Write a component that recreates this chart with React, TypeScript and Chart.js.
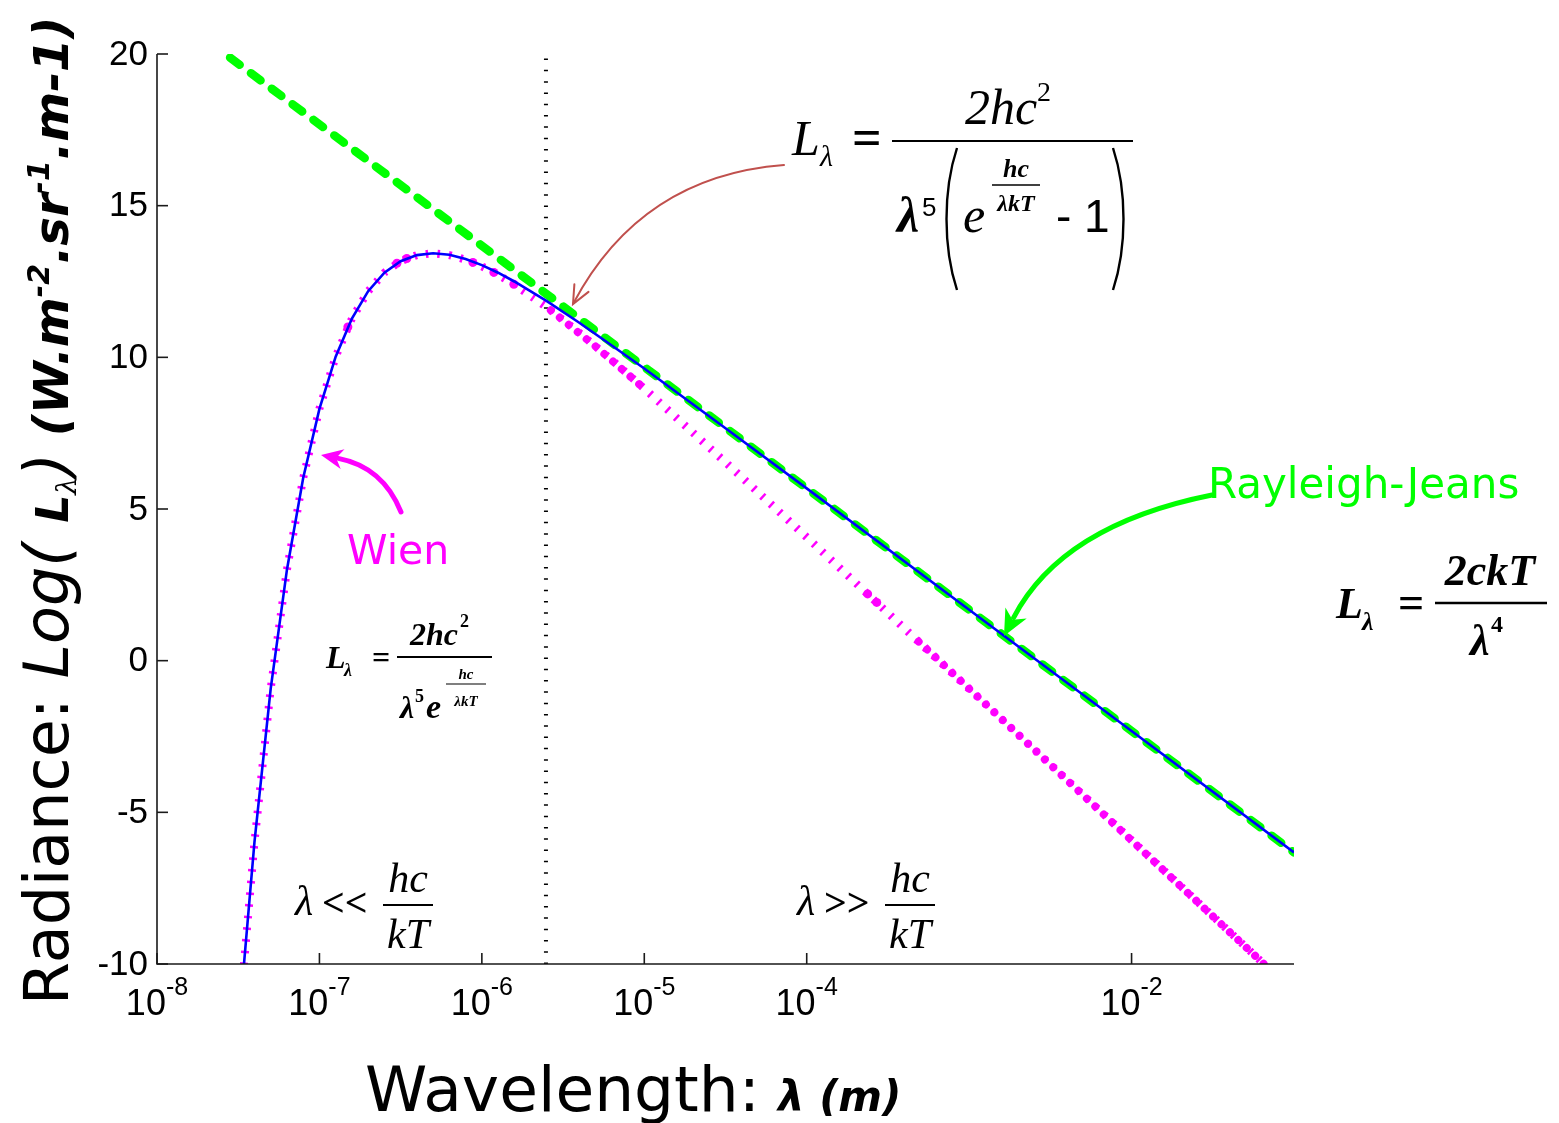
import React, { useEffect, useRef } from "react";
import { Chart, registerables } from "chart.js";

Chart.register(...registerables);

// ---- data (x = log10 of wavelength in m, y = log10 of radiance) ----
const planckLogLambda = [-7.465, -7.4, -7.3, -7.2, -7.1, -7.0, -6.9, -6.8, -6.7, -6.6, -6.5, -6.4, -6.3, -6.2, -6.1, -6.0, -5.9, -5.8, -5.6, -5.4, -5.2, -5.0, -4.5, -4.0, -3.0, -2.0, -1.0];
const planckLogL = [-10.03, -5.98, -0.92, 3.0, 6.02, 8.3, 10.02, 11.28, 12.18, 12.79, 13.17, 13.37, 13.43, 13.38, 13.24, 13.04, 12.79, 12.5, 11.85, 11.14, 10.39, 9.63, 7.66, 5.68, 1.68, -2.32, -6.32];

const wienLogLambda = [-7.465, -7.4, -7.3, -7.2, -7.1, -7.0, -6.9, -6.8, -6.7, -6.6, -6.5, -6.4, -6.3, -6.2, -6.1, -6.0, -5.9, -5.8, -5.6, -5.4, -5.2, -5.0, -4.5, -4.0, -3.0, -2.0, -1.185];
const wienLogL = [-10.03, -5.98, -0.92, 3.0, 6.02, 8.31, 10.02, 11.28, 12.18, 12.79, 13.17, 13.37, 13.43, 13.37, 13.22, 13.0, 12.72, 12.4, 11.65, 10.81, 9.91, 8.97, 6.54, 4.07, -0.93, -5.92, -10.0];

const wienDotLogLambda = [-6.825, -6.523, -6.462, -6.055, -5.926, -5.803, -3.625, -3.569];
const wienDotLogL = [11.0, 13.1, 13.26, 13.13, 12.8, 12.41, 2.2, 1.92];

const wienDenseALogLambda = [-5.575, -5.3, -5.028];
const wienDenseALogL = [11.55, 10.36, 9.1];
const wienDenseBLogLambda = [-3.311, -1.185];
const wienDenseBLogL = [0.63, -10.0];

const rjLogLambda = [-7.55, -1.0];
const rjLogL = [19.88, -6.32];

const thresholdLogLambda = [-5.6054, -5.6054];
const thresholdLogL = [19.85, -10];

const xTickExponents = [-8, -7, -6, -5, -4, -2];
const yTickValues = [-10, -5, 0, 5, 10, 15, 20];

const pts = (xs: number[], ys: number[]) => xs.map((x, i) => ({ x, y: ys[i] }));

const SANS = "'DejaVu Sans', sans-serif";
const ARIAL = "'Liberation Sans', Arial, sans-serif";
const SERIF = "'Liberation Serif', 'Times New Roman', serif";

function txt(ctx: CanvasRenderingContext2D, s: string, x: number, y: number, font: string, color = "#000", align: CanvasTextAlign = "left") {
  ctx.font = font;
  ctx.fillStyle = color;
  ctx.textAlign = align;
  ctx.textBaseline = "alphabetic";
  ctx.fillText(s, x, y);
}

function arrow(ctx: CanvasRenderingContext2D, sx: number, sy: number, cx: number, cy: number, tx: number, ty: number, color: string, lw: number, len: number, hw: number, filled: boolean) {
  const ang = Math.atan2(ty - cy, tx - cx);
  const cos = Math.cos(ang), sin = Math.sin(ang);
  const bx = tx - len * cos * (filled ? 0.8 : 0.05);
  const by = ty - len * sin * (filled ? 0.8 : 0.05);
  ctx.save();
  ctx.strokeStyle = color;
  ctx.fillStyle = color;
  ctx.lineWidth = lw;
  ctx.lineCap = "round";
  ctx.beginPath();
  ctx.moveTo(sx, sy);
  ctx.quadraticCurveTo(cx, cy, bx, by);
  ctx.stroke();
  const hx = tx - len * cos, hy = ty - len * sin;
  const p1x = hx - hw * sin, p1y = hy + hw * cos;
  const p2x = hx + hw * sin, p2y = hy - hw * cos;
  ctx.beginPath();
  if (filled) {
    const nx = tx - len * 0.7 * cos, ny = ty - len * 0.7 * sin;
    ctx.moveTo(tx, ty);
    ctx.lineTo(p1x, p1y);
    ctx.lineTo(nx, ny);
    ctx.lineTo(p2x, p2y);
    ctx.closePath();
    ctx.fill();
  } else {
    ctx.moveTo(p1x, p1y);
    ctx.lineTo(tx, ty);
    ctx.lineTo(p2x, p2y);
    ctx.stroke();
  }
  ctx.restore();
}

function hline(ctx: CanvasRenderingContext2D, x1: number, x2: number, y: number, lw: number) {
  ctx.save();
  ctx.strokeStyle = "#000";
  ctx.lineWidth = lw;
  ctx.beginPath();
  ctx.moveTo(x1, y);
  ctx.lineTo(x2, y);
  ctx.stroke();
  ctx.restore();
}

function paren(ctx: CanvasRenderingContext2D, x: number, y1: number, y2: number, dir: number) {
  ctx.save();
  ctx.strokeStyle = "#000";
  ctx.lineWidth = 2.4;
  ctx.beginPath();
  ctx.moveTo(x + dir * 12, y1);
  ctx.bezierCurveTo(x - dir * 2, y1 + (y2 - y1) * 0.3, x - dir * 2, y1 + (y2 - y1) * 0.7, x + dir * 12, y2);
  ctx.stroke();
  ctx.restore();
}

const decorPlugin = {
  id: "decor",
  afterDraw(chart: any) {
    const ctx: CanvasRenderingContext2D = chart.ctx;
    const { left, right, top, bottom } = chart.chartArea;
    const xs = chart.scales.x;
    const ys = chart.scales.y;
    ctx.save();

    // axes
    ctx.strokeStyle = "#1a1a1a";
    ctx.lineWidth = 1.6;
    ctx.beginPath();
    ctx.moveTo(left, top);
    ctx.lineTo(left, bottom);
    ctx.lineTo(right, bottom);
    ctx.stroke();

    // y ticks + labels
    for (const v of yTickValues) {
      const py = ys.getPixelForValue(v);
      ctx.strokeStyle = "#1a1a1a";
      ctx.beginPath();
      ctx.moveTo(left, py);
      ctx.lineTo(left + 11, py);
      ctx.stroke();
      ctx.font = `35px ${ARIAL}`;
      ctx.fillStyle = "#000";
      ctx.textAlign = "right";
      ctx.textBaseline = "middle";
      ctx.fillText(String(v), left - 9, py + 1);
    }

    // x ticks + labels
    for (const e of xTickExponents) {
      const px = xs.getPixelForValue(e);
      ctx.strokeStyle = "#1a1a1a";
      ctx.beginPath();
      ctx.moveTo(px, bottom);
      ctx.lineTo(px, bottom - 11);
      ctx.stroke();
      ctx.font = `36px ${ARIAL}`;
      const w1 = ctx.measureText("10").width;
      ctx.font = `25px ${ARIAL}`;
      const sup = String(e);
      const w2 = ctx.measureText(sup).width;
      const sx = px - (w1 + w2) / 2;
      txt(ctx, "10", sx, bottom + 51, `36px ${ARIAL}`);
      txt(ctx, sup, sx + w1, bottom + 31, `25px ${ARIAL}`);
    }

    // y-axis title (rotated)
    ctx.save();
    ctx.translate(68, 1005);
    ctx.rotate(-Math.PI / 2);
    ctx.fillStyle = "#000";
    ctx.textAlign = "left";
    ctx.textBaseline = "alphabetic";
    let cx = 0;
    const seg = (s: string, font: string, dy = 0) => {
      ctx.font = font;
      ctx.fillText(s, cx, dy);
      cx += ctx.measureText(s).width;
    };
    seg("Radiance: ", `62px ${SANS}`);
    seg("Log(", `italic 62px ${SANS}`);
    seg(" ", `62px ${SANS}`);
    seg("L", `bold italic 44px ${SANS}`);
    seg("λ", `italic 28px 'DejaVu Serif', serif`, 8);
    seg(")", `italic 62px ${SANS}`);
    seg(" (W.m", `bold italic 48px ${SANS}`);
    seg("-2", `bold italic 30px ${SANS}`, -19);
    seg(".sr", `bold italic 48px ${SANS}`);
    seg("-1", `bold italic 30px ${SANS}`, -19);
    seg(".m-1)", `bold italic 48px ${SANS}`);
    ctx.restore();

    // x-axis title
    {
      ctx.font = `63px ${SANS}`;
      const s = "Wavelength: ";
      txt(ctx, s, 365, 1111, `63px ${SANS}`);
      const w = ctx.measureText(s).width;
      txt(ctx, "λ (m)", 365 + w - 2, 1111, `bold italic 42px ${SANS}`);
    }

    // labels
    txt(ctx, "Wien", 347, 564, `41px ${SANS}`, "#ff00ff");
    txt(ctx, "Rayleigh-Jeans", 1208, 498, `42px ${SANS}`, "#00ff00");

    // arrows
    arrow(ctx, 784, 165, 641, 176, 573, 304, "rgb(192,80,77)", 2, 18, 8, false);
    arrow(ctx, 401, 512, 383, 467, 321, 455, "#ff00ff", 5, 22, 10, true);
    arrow(ctx, 1212, 495, 1062, 525, 1004, 636, "#00ff00", 5, 26, 12, true);

    // main Planck formula
    txt(ctx, "L", 792, 155, `italic 50px ${SERIF}`);
    txt(ctx, "λ", 820, 166, `italic 30px ${SERIF}`);
    txt(ctx, "=", 852, 155, `bold 52px ${SERIF}`);
    hline(ctx, 892, 1133, 141, 2);
    txt(ctx, "2hc", 965, 124, `italic 50px ${SERIF}`);
    txt(ctx, "2", 1037, 101, `28px ${SERIF}`);
    txt(ctx, "λ", 897, 232, `bold italic 50px ${SERIF}`);
    txt(ctx, "5", 922, 216, `26px ${ARIAL}`);
    paren(ctx, 945, 148, 290, 1);
    txt(ctx, "e", 963, 232, `italic 50px ${SERIF}`);
    txt(ctx, "hc", 1016, 177, `bold italic 26px ${SERIF}`, "#000", "center");
    hline(ctx, 992, 1040, 185, 1.5);
    txt(ctx, "λkT", 1016, 211, `bold italic 24px ${SERIF}`, "#000", "center");
    txt(ctx, "- 1", 1056, 232, `46px ${ARIAL}`);
    paren(ctx, 1125, 148, 290, -1);

    // Wien formula
    txt(ctx, "L", 326, 668, `bold italic 32px ${SERIF}`);
    txt(ctx, "λ", 344, 676, `bold italic 18px ${SERIF}`);
    txt(ctx, "=", 372, 668, `bold 32px ${SERIF}`);
    hline(ctx, 397, 492, 657, 2);
    txt(ctx, "2hc", 410, 645, `bold italic 32px ${SERIF}`);
    txt(ctx, "2", 460, 627, `bold 18px ${SERIF}`);
    txt(ctx, "λ", 400, 718, `bold italic 32px ${SERIF}`);
    txt(ctx, "5", 415, 702, `bold 18px ${SERIF}`);
    txt(ctx, "e", 426, 718, `bold italic 34px ${SERIF}`);
    txt(ctx, "hc", 466, 679, `bold italic 15px ${SERIF}`, "#000", "center");
    hline(ctx, 446, 486, 684, 1.2);
    txt(ctx, "λkT", 466, 706, `bold italic 15px ${SERIF}`, "#000", "center");

    // Rayleigh-Jeans formula
    txt(ctx, "L", 1336, 618, `bold italic 44px ${SERIF}`);
    txt(ctx, "λ", 1362, 630, `bold italic 26px ${SERIF}`);
    txt(ctx, "=", 1398, 618, `bold 46px ${SERIF}`);
    hline(ctx, 1435, 1547, 603, 2.5);
    txt(ctx, "2ckT", 1490, 585, `bold italic 44px ${SERIF}`, "#000", "center");
    txt(ctx, "λ", 1470, 655, `bold italic 44px ${SERIF}`);
    txt(ctx, "4", 1491, 632, `bold 24px ${SERIF}`);

    // regime labels
    const regime = (x0: number, op: string) => {
      txt(ctx, "λ", x0, 915, `italic 42px ${SERIF}`);
      txt(ctx, op, x0 + 27, 916, `bold 40px ${SERIF}`);
      hline(ctx, x0 + 88, x0 + 138, 905, 2);
      txt(ctx, "hc", x0 + 113, 892, `italic 42px ${SERIF}`, "#000", "center");
      txt(ctx, "kT", x0 + 113, 948, `italic 42px ${SERIF}`, "#000", "center");
    };
    regime(295, "<<");
    regime(797, ">>");

    ctx.restore();
  },
};

export default function App() {
  const ref = useRef<HTMLCanvasElement | null>(null);
  useEffect(() => {
    if (!ref.current) return;
    const base = { pointRadius: 0, tension: 0, fill: false };
    const chart = new Chart(ref.current, {
      type: "line",
      data: {
        datasets: [
          { ...base, label: "Planck", data: pts(planckLogLambda, planckLogL), borderColor: "#0000ff", borderWidth: 2.6 },
          {
            ...base,
            label: "Wien markers",
            data: pts(wienDotLogLambda, wienDotLogL),
            showLine: false,
            pointRadius: 4.5,
            pointBackgroundColor: "#ff00ff",
            pointBorderColor: "#ff00ff",
            pointBorderWidth: 0,
          },
          { ...base, label: "Wien dense A", data: pts(wienDenseALogLambda, wienDenseALogL), borderColor: "#ff00ff", borderWidth: 8, borderDash: [0.01, 11.5], borderCapStyle: "round" },
          { ...base, label: "Wien dense B", data: pts(wienDenseBLogLambda, wienDenseBLogL), borderColor: "#ff00ff", borderWidth: 8, borderDash: [0.01, 11.5], borderCapStyle: "round" },
          { ...base, label: "Wien", data: pts(wienLogLambda, wienLogL), borderColor: "#ff00ff", borderWidth: 8, borderDash: [2.5, 9.2], borderCapStyle: "butt" },
          { ...base, label: "Rayleigh-Jeans", data: pts(rjLogLambda, rjLogL), borderColor: "#00ff00", borderWidth: 8.5, borderDash: [12, 14], borderCapStyle: "round" },
          { ...base, label: "hc/kT", data: pts(thresholdLogLambda, thresholdLogL), borderColor: "#000000", borderWidth: 4, borderDash: [1.5, 9.8], borderCapStyle: "butt" },
        ],
      },
      options: {
        responsive: false,
        animation: false,
        events: [],
        layout: { padding: { top: 54, right: 265, left: 0, bottom: 0 } },
        plugins: { legend: { display: false }, tooltip: { enabled: false } },
        scales: {
          x: {
            type: "linear",
            min: -8,
            max: -1,
            grid: { display: false },
            border: { display: false },
            ticks: { display: false },
            afterFit: (s: any) => {
              s.height = 159;
            },
          },
          y: {
            type: "linear",
            min: -10,
            max: 20,
            grid: { display: false },
            border: { display: false },
            ticks: { display: false },
            afterFit: (s: any) => {
              s.width = 157;
            },
          },
        },
      },
      plugins: [decorPlugin],
    } as any);
    return () => chart.destroy();
  }, []);
  return (
    <>
      <style>{"body{margin:0;background:#fff}"}</style>
      <canvas ref={ref} width={1559} height={1123} style={{ display: "block" }} />
    </>
  );
}
